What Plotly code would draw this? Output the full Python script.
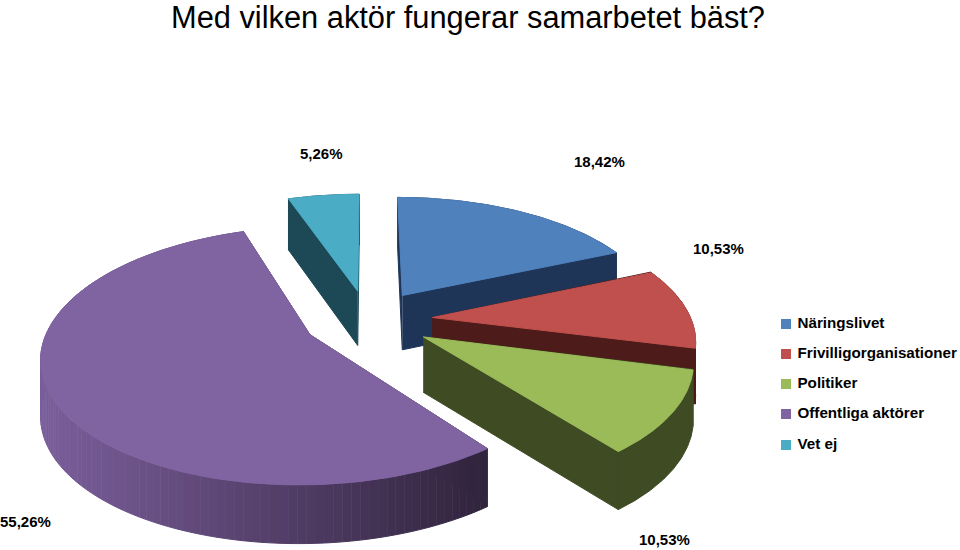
import numpy as np
import plotly.graph_objects as go

# Chart data
categories = ["Näringslivet", "Frivilligorganisationer", "Politiker", "Offentliga aktörer", "Vet ej"]
values = [18.42, 10.53, 10.53, 55.26, 5.26]
top_colors = ["#4F81BD", "#C0504D", "#9BBB59", "#8064A2", "#4BACC6"]
cut_colors = ["#1F3557", "#4D1B19", "#3E4B23", "#3A2C4B", "#1D4855"]
wall_from = ["#1F3557", "#4D1B19", "#3E4B23", "#7B5F9C", "#1D4855"]
wall_to = ["#1F3557", "#4D1B19", "#3E4B23", "#31243D", "#1D4855"]

# Pie look: centre, radii, perspective, explode, thickness
CX, CY = 368, 320
RX, RY = 259, 121
PERSP = 0.16
EXPLODE = 0.25
DEPTH = 55
FONT = "Liberation Sans"

total = sum(values)
ends = np.cumsum(values) / total * 2 * np.pi
starts = ends - np.array(values) / total * 2 * np.pi


def project(x, z, h=0.0):
    w = 1 + PERSP * z
    return CX + RX * x / w, CY - RY * z / w + DEPTH * h * (1 - 0.06 * z)


def blend(c1, c2, t):
    a = [int(c1[i:i + 2], 16) for i in (1, 3, 5)]
    b = [int(c2[i:i + 2], 16) for i in (1, 3, 5)]
    return "rgb(%d,%d,%d)" % tuple(a[i] + (b[i] - a[i]) * t for i in range(3))


def poly(fig, xs, ys, color):
    fig.add_trace(go.Scatter(x=list(xs), y=list(ys), mode="lines", fill="toself",
                             fillcolor=color, line=dict(color=color, width=1),
                             hoverinfo="skip", showlegend=False))


fig = go.Figure()

# back slices first so the front ones cover them
for i in [4, 0, 3, 1, 2]:
    a0, a1 = starts[i], ends[i]
    mid = (a0 + a1) / 2
    ox, oz = EXPLODE * np.sin(mid), EXPLODE * np.cos(mid)
    th = np.linspace(a0, a1, 121)
    ax = ox + np.sin(th)
    az = oz + np.cos(th)

    # flat cut faces
    for a in (a0, a1):
        px = [ox, ox + np.sin(a), ox + np.sin(a), ox]
        pz = [oz, oz + np.cos(a), oz + np.cos(a), oz]
        ph = [0, 0, 1, 1]
        sx, sy = project(np.array(px), np.array(pz), np.array(ph))
        poly(fig, sx, sy, cut_colors[i])

    # rounded outer wall, in strips only where it is shaded
    step = 1 if wall_from[i] != wall_to[i] else len(th) - 1
    for j in range(0, len(th) - 1, step):
        k = j + step
        sx_top, sy_top = project(ax[j:k + 1], az[j:k + 1])
        sx_bot, sy_bot = project(ax[j:k + 1], az[j:k + 1], 1.0)
        t = np.clip((sx_top.mean() - 40) / 445, 0, 1)
        poly(fig, np.r_[sx_top, sx_bot[::-1]], np.r_[sy_top, sy_bot[::-1]],
             blend(wall_from[i], wall_to[i], t))

    # top surface
    sx, sy = project(np.r_[ox, ax, ox], np.r_[oz, az, oz])
    poly(fig, sx, sy, top_colors[i])

# legend column
fig.add_trace(go.Scatter(x=[786] * 5, y=[324, 354, 384, 414, 445], mode="markers+text",
                         marker=dict(symbol="square", size=10, color=top_colors),
                         text=["&nbsp;" + c for c in categories], textposition="middle right",
                         textfont=dict(family=FONT, size=15.2, color="#000000", weight="bold"),
                         hoverinfo="skip", showlegend=False))

label_x = [599, 718, 664, 25, 321]
label_y = [161, 248, 539, 521, 153]
for i in range(5):
    fig.add_annotation(x=label_x[i], y=label_y[i], xref="x", yref="y", showarrow=False,
                       text=("%.2f%%" % values[i]).replace(".", ","),
                       font=dict(family=FONT, size=15, color="#000000", weight="bold"))

fig.add_annotation(x=468, y=17, xref="x", yref="y", showarrow=False,
                   text="Med vilken aktör fungerar samarbetet bäst?",
                   font=dict(family=FONT, size=30.8, color="#000000"))

fig.update_layout(width=960, height=550, margin=dict(l=0, r=0, t=0, b=0),
                  paper_bgcolor="white", plot_bgcolor="white", showlegend=False,
                  xaxis=dict(range=[0, 960], visible=False, fixedrange=True),
                  yaxis=dict(range=[550, 0], visible=False, fixedrange=True))
# page body has a default margin that would push the plot 8px off
fig.write_html("out.html", config=dict(displayModeBar=False),
               post_script="document.body.style.margin='0';")
